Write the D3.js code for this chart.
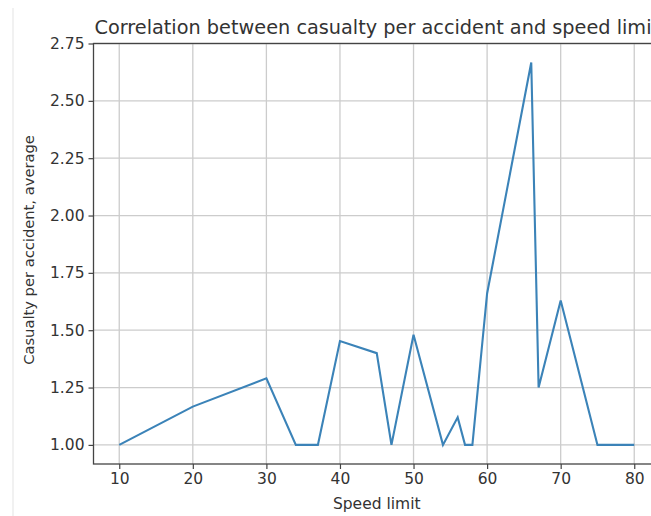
<!DOCTYPE html>
<html>
<head>
<meta charset="utf-8">
<script src="https://cdn.jsdelivr.net/npm/d3@7"></script>
<style>
  body { margin: 0; background: #fff; }
  svg { display: block; }
  text { font-family: "DejaVu Sans", sans-serif; fill: #333; }
</style>
</head>
<body>
<svg id="chart" width="651" height="516"></svg>
<script>
// speed limit vs average casualties per accident
const speedLimits = [10, 20, 30, 34, 37, 40, 45, 47, 50, 54, 56, 57, 58, 60, 66, 67, 70, 75, 80]
const casualtyAvg = [1.00, 1.167, 1.29, 1.00, 1.00, 1.453, 1.40, 1.00, 1.48, 1.00, 1.12, 1.00, 1.00, 1.66, 2.667, 1.25, 1.63, 1.00, 1.00]

const xTicks = [10, 20, 30, 40, 50, 60, 70, 80]
const yTicks = [1.00, 1.25, 1.50, 1.75, 2.00, 2.25, 2.50, 2.75]

const titleText = "Correlation between casualty per accident and speed limit"
const xLabel = "Speed limit"
const yLabel = "Casualty per accident, average"

let svg = d3.select("#chart")

// axes box (right side runs past the picture)
let box = { left: 93.5, right: 660, top: 43.5, bottom: 464 }

let x = d3.scaleLinear()
  .domain([6.5, 83.5])
  .range([box.left, box.right])

let y = d3.scaleLinear()
  .domain([0.9167, 2.75])
  .range([box.bottom, box.top])

// faint border line at left of screenshot
svg.append("line")
  .attr("x1", 13).attr("x2", 13)
  .attr("y1", 8).attr("y2", 516)
  .attr("stroke", "#ececec")
  .attr("stroke-width", 1.5)

// grid
svg.append("g")
  .selectAll("line")
  .data(xTicks)
  .enter()
  .append("line")
  .attr("x1", d => x(d)).attr("x2", d => x(d))
  .attr("y1", box.top).attr("y2", box.bottom)
  .attr("stroke", "#cccccc")
  .attr("stroke-width", 1.3)

svg.append("g")
  .selectAll("line")
  .data(yTicks)
  .enter()
  .append("line")
  .attr("x1", box.left).attr("x2", box.right)
  .attr("y1", d => y(d)).attr("y2", d => y(d))
  .attr("stroke", "#cccccc")
  .attr("stroke-width", 1.3)

// the line
let line = d3.line()
  .x((d, i) => x(speedLimits[i]))
  .y(d => y(d))

svg.append("path")
  .datum(casualtyAvg)
  .attr("d", line)
  .attr("fill", "none")
  .attr("stroke", "#3b83b8")
  .attr("stroke-width", 2.1)
  .attr("stroke-linejoin", "miter")

// axes
let xAxis = d3.axisBottom(x)
  .tickValues(xTicks)
  .tickSize(5)
  .tickPadding(4)
  .tickFormat(d3.format("d"))

let yAxis = d3.axisLeft(y)
  .tickValues(yTicks)
  .tickSize(5)
  .tickPadding(4)
  .tickFormat(d3.format(".2f"))

let gx = svg.append("g")
  .attr("transform", "translate(0," + box.bottom + ")")
  .call(xAxis)

let gy = svg.append("g")
  .attr("transform", "translate(" + box.left + ",0)")
  .call(yAxis)

;[gx, gy].forEach(function(g) {
  g.select(".domain").remove()
  g.selectAll(".tick line").attr("stroke", "#444").attr("stroke-width", 1.2)
  g.selectAll(".tick text")
    .attr("font-size", 15.5)
    .attr("fill", "#333")
    .style("font-family", "DejaVu Sans, sans-serif")
})

// spines
svg.append("rect")
  .attr("x", box.left).attr("y", box.top)
  .attr("width", box.right - box.left).attr("height", box.bottom - box.top)
  .attr("fill", "none")
  .attr("stroke", "#444")
  .attr("stroke-width", 1.3)

// title and labels
svg.append("text")
  .attr("x", (box.left + box.right) / 2)
  .attr("y", 34)
  .attr("text-anchor", "middle")
  .attr("font-size", 19.3)
  .text(titleText)

svg.append("text")
  .attr("x", (box.left + box.right) / 2)
  .attr("y", 509)
  .attr("text-anchor", "middle")
  .attr("font-size", 15.5)
  .text(xLabel)

svg.append("text")
  .attr("transform", "translate(34,250) rotate(-90)")
  .attr("text-anchor", "middle")
  .attr("font-size", 14.7)
  .text(yLabel)
</script>
</body>
</html>
